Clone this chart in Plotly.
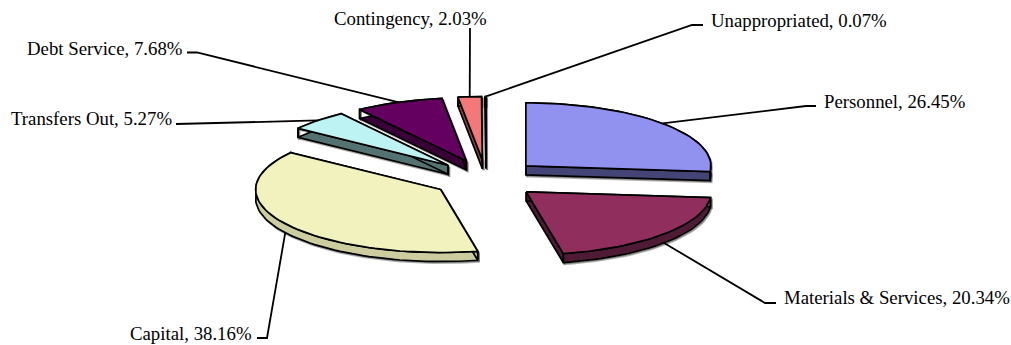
import math
import plotly.graph_objects as go

# Budget shares in percent, clockwise from twelve o'clock
categories = ["Personnel", "Materials & Services", "Capital", "Transfers Out",
              "Debt Service", "Contingency", "Unappropriated"]
shares = [26.45, 20.34, 38.16, 5.27, 7.68, 2.03, 0.07]
value_labels = ["26.45%", "20.34%", "38.16%", "5.27%", "7.68%", "2.03%", "0.07%"]

top_colors = ["#9191F0", "#902F5E", "#F2F2BE", "#BDF3F3", "#630060", "#F57878", "#8A8A8A"]
side_colors = ["#444477", "#4E1A35", "#CCCC9E", "#537373", "#3A0038", "#8A4444", "#333333"]

# Tilted-disc geometry, in screen units
CX, CY = 486.0, 179.0
RX, RY = 185.0, 63.0
EXPLODE_X, EXPLODE_Y = 54.0, 19.4
DEPTH = 9.0

# Label anchors and the elbow each leader line passes through
label_xy = [(823, 101), (783, 297), (253, 333), (173, 118), (183, 48), (410, 18), (710, 20)]
label_side = ["left", "left", "right", "right", "right", "center", "left"]
elbows = [[(806, 106), (816, 106)], [(765, 303), (776, 303)], [(267, 338), (257, 338)],
          [(176, 124)], [(197, 52.5), (187, 52.5)], [(470, 28)], [(692, 25), (703, 25)]]


def rim(cx, cy, deg):
    a = math.radians(deg)
    return cx + RX * math.sin(a), cy - RY * math.cos(a)


def sector(cx, cy, start, end):
    n = max(2, int((end - start) / 2))
    arc = [rim(cx, cy, start + (end - start) * i / n) for i in range(n + 1)]
    return arc


def extruded_walls(cx, cy, arc):
    # one band along the curved rim plus one quad for each straight cut
    xs, ys = [], []
    band = [(x, y) for x, y in arc] + [(x, y + DEPTH) for x, y in reversed(arc)] + [arc[0]]
    for quad in (
        band,
        [(cx, cy), arc[0], (arc[0][0], arc[0][1] + DEPTH), (cx, cy + DEPTH), (cx, cy)],
        [(cx, cy), arc[-1], (arc[-1][0], arc[-1][1] + DEPTH), (cx, cy + DEPTH), (cx, cy)],
    ):
        xs += [p[0] for p in quad] + [None]
        ys += [p[1] for p in quad] + [None]
    return xs, ys


fig = go.Figure()
total = sum(shares)
bounds = [0.0]
for s in shares:
    bounds.append(bounds[-1] + s / total * 360.0)

leaders = []
for i in [6, 5, 4, 3, 0, 1, 2]:
    start, end = bounds[i], bounds[i + 1]
    mid_deg = (start + end) / 2
    mid = math.radians(mid_deg)
    cx = CX + EXPLODE_X * math.sin(mid)
    cy = CY - EXPLODE_Y * math.cos(mid)
    arc = sector(cx, cy, start, end)
    top = [(cx, cy)] + arc + [(cx, cy)]

    # soft drop shadow, then the extruded walls, then the top face
    wx, wy = extruded_walls(cx, cy, arc)
    fig.add_trace(go.Scatter(
        x=[v + 1.2 if v is not None else None for v in wx],
        y=[v + 1.5 if v is not None else None for v in wy],
        mode="lines", fill="toself", fillcolor="rgba(0,0,0,0.3)",
        line=dict(color="rgba(0,0,0,0.3)", width=2),
        hoverinfo="skip", showlegend=False,
    ))
    fig.add_trace(go.Scatter(
        x=wx, y=wy, mode="lines", fill="toself", fillcolor=side_colors[i],
        line=dict(color="#000000", width=1.7), hoverinfo="skip", showlegend=False,
    ))
    fig.add_trace(go.Scatter(
        x=[p[0] for p in top], y=[p[1] for p in top],
        mode="lines", fill="toself", fillcolor=top_colors[i],
        line=dict(color="#000000", width=1.7), hoverinfo="skip", showlegend=False,
    ))

    sx, sy = rim(cx, cy, mid_deg)
    # rims on the near half meet the leader at the wall's lower edge
    if math.cos(mid) < 0:
        sy += DEPTH
    leaders.append((i, [(sx, sy)] + elbows[i]))

for i, pts in leaders:
    fig.add_trace(go.Scatter(
        x=[p[0] for p in pts], y=[p[1] for p in pts], mode="lines",
        line=dict(color="#000000", width=1.8), hoverinfo="skip", showlegend=False,
    ))

for name, pct, (lx, ly), side in zip(categories, value_labels, label_xy, label_side):
    fig.add_annotation(
        x=lx, y=ly, text=f"{name}, {pct}", showarrow=False, xanchor=side, yanchor="middle",
        font=dict(family="Liberation Serif", size=18.8, color="#000000"),
        xshift=0, borderpad=0,
    )

fig.update_layout(
    width=1011, height=345, margin=dict(l=0, r=0, t=0, b=0),
    paper_bgcolor="#FFFFFF", plot_bgcolor="#FFFFFF", showlegend=False,
    xaxis=dict(range=[0, 1011], visible=False, fixedrange=True),
    yaxis=dict(range=[345, 0], visible=False, fixedrange=True),
)

fig.write_html("out.html")
